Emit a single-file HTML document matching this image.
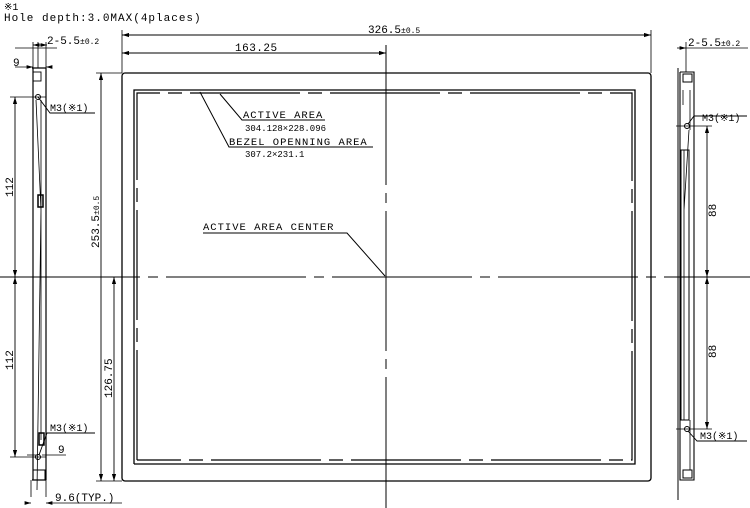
<!DOCTYPE html>
<html><head><meta charset="utf-8"><style>
html,body{margin:0;padding:0;background:#fff;}
svg{display:block;}
text{font-family:"Liberation Mono","DejaVu Sans Mono",monospace;fill:#000;}
</style></head><body>
<svg width="750" height="508" viewBox="0 0 750 508" xmlns="http://www.w3.org/2000/svg">
<defs>
<marker id="a" viewBox="0 0 10 6" refX="10" refY="3" markerWidth="8" markerHeight="5" orient="auto-start-reverse"><path d="M0,0 L10,3 L0,6 z" fill="#000"/></marker>
</defs>
<text x="4" y="10" font-size="10">※1</text>
<text x="4" y="21" font-size="11" letter-spacing="1">Hole depth:3.0MAX(4places)</text>

<g stroke="#000" fill="none">
<!-- main frame -->
<rect x="122" y="73" width="529" height="408" rx="3" stroke-width="1.3"/>
<path d="M134 464 V90 H635 V464 H134" stroke-width="1.3" stroke-dasharray="none"/>
<path d="M137 460 V93 H632 V460 H137" stroke-width="1.2" stroke-dasharray="110 8 14 8"/>
<!-- center lines -->
<path d="M0 277 H750" stroke-width="1" stroke-dasharray="140 8 10 8"/>
<path d="M386 45 V508" stroke-width="1" stroke-dasharray="140 8 10 8"/>
<!-- top dims -->
<path d="M122 73 V30 M651 73 V30" stroke-width="0.8"/>
<path d="M122 35 H651" stroke-width="0.9" marker-start="url(#a)" marker-end="url(#a)"/>
<path d="M122 53 H386" stroke-width="0.9" marker-start="url(#a)" marker-end="url(#a)"/>
<!-- left vertical dims -->
<path d="M122 73 H96 M122 481 H96 M122 277 H110" stroke-width="0.8"/>
<path d="M101 73 V481" stroke-width="0.9" marker-start="url(#a)" marker-end="url(#a)"/>
<path d="M114 277 V481" stroke-width="0.9" marker-start="url(#a)" marker-end="url(#a)"/>
<!-- leaders -->
<path d="M200 92 L229 147 H373" stroke-width="1"/>
<path d="M220 94 L242 120 H325" stroke-width="1"/>
<path d="M203 233 H347 L385 276" stroke-width="1"/>

<!-- left side view -->
<path d="M33 68 V480 M46 68 V480 M32 68 H46 M32 480 H46" stroke-width="1.2"/>
<path d="M36 100 L41 210 L37 490 M41 100 V440" stroke-width="0.8"/>
<rect x="33" y="72" width="8" height="9" stroke-width="0.9"/>
<rect x="38" y="195" width="5" height="12" stroke-width="1.5"/>
<rect x="39" y="433" width="5" height="12" stroke-width="1.5"/>
<rect x="33" y="470" width="12" height="10" stroke-width="1"/>
<circle cx="38" cy="97" r="2.5" stroke-width="1"/>
<circle cx="38" cy="457" r="2.5" stroke-width="1"/>
<path d="M10 97 H46 M10 457 H46" stroke-width="0.8"/>
<path d="M15 97 V277" stroke-width="0.9" marker-start="url(#a)" marker-end="url(#a)"/>
<path d="M15 277 V457" stroke-width="0.9" marker-start="url(#a)" marker-end="url(#a)"/>
<path d="M38 97 L50 113 H95" stroke-width="0.9"/>
<path d="M39 455 L47 433 H95" stroke-width="0.9"/>
<path d="M33 42 V68 M38 42 V68 M46 42 V68" stroke-width="0.8"/>
<path d="M33 45 H47" stroke-width="0.8" marker-end="url(#a)"/>
<path d="M33 45 H38" stroke-width="0.8" marker-start="url(#a)"/>
<path d="M15 67 H33" stroke-width="0.8" marker-end="url(#a)"/>
<path d="M46 67 H52" stroke-width="0.8" marker-start="url(#a)"/>
<path d="M27 455 H36 M42 455 H66" stroke-width="0.8"/>
<path d="M31 480 V497 M46 480 V497" stroke-width="0.8"/>
<path d="M26 503 H31" stroke-width="0.8" marker-end="url(#a)"/>
<path d="M46 503 H122" stroke-width="0.8" marker-start="url(#a)"/>
<path d="M15 48 H57" stroke-width="0.8"/>

<!-- right side view -->
<path d="M678 68 V500" stroke-width="1"/>
<path d="M680 72 V480 H694 V72 H680" stroke-width="1.1"/>
<path d="M683 90 V105 M690 90 V130 M689 130 L684 210 M684 150 V420 M690 420 V470" stroke-width="0.8"/>
<rect x="681" y="150" width="8" height="270" stroke-width="1"/>
<rect x="683" y="74" width="9" height="8" stroke-width="1"/>
<rect x="683" y="470" width="9" height="8" stroke-width="1"/>
<circle cx="687" cy="126" r="2.5" stroke-width="1"/>
<circle cx="687" cy="429" r="2.5" stroke-width="1"/>
<path d="M676 126 H712 M676 429 H712" stroke-width="0.8"/>
<path d="M707 126 V277" stroke-width="0.9" marker-start="url(#a)" marker-end="url(#a)"/>
<path d="M707 277 V429" stroke-width="0.9" marker-start="url(#a)" marker-end="url(#a)"/>
<path d="M688 124 L694 116 H747" stroke-width="0.9"/>
<path d="M688 431 L697 441 H747" stroke-width="0.9"/>
<path d="M677 48 H686" stroke-width="0.8" marker-end="url(#a)"/>
<path d="M686 48 H748" stroke-width="0.8"/>
<path d="M686 42 V72" stroke-width="0.8"/>
</g>

<!-- texts -->
<text x="368" y="33" font-size="11">326.5<tspan font-size="8">±0.5</tspan></text>
<text x="235" y="51" font-size="11" letter-spacing="0.5">163.25</text>
<text x="243" y="118" font-size="10.5" letter-spacing="1">ACTIVE AREA</text>
<text x="245" y="131" font-size="9">304.128×228.096</text>
<text x="229" y="145" font-size="10.5" letter-spacing="1">BEZEL OPENNING AREA</text>
<text x="245" y="157" font-size="9">307.2×231.1</text>
<text x="203" y="230" font-size="10.5" letter-spacing="1">ACTIVE AREA CENTER</text>
<text transform="translate(99,248) rotate(-90)" font-size="11">253.5<tspan font-size="8">±0.5</tspan></text>
<text transform="translate(112,398) rotate(-90)" font-size="11">126.75</text>
<text transform="translate(13,197) rotate(-90)" font-size="11">112</text>
<text transform="translate(13,370) rotate(-90)" font-size="11">112</text>
<text transform="translate(716,217) rotate(-90)" font-size="11">88</text>
<text transform="translate(716,358) rotate(-90)" font-size="11">88</text>
<text x="47" y="44" font-size="11">2-5.5<tspan font-size="8">±0.2</tspan></text>
<text x="13" y="66" font-size="11">9</text>
<text x="50" y="111" font-size="10">M3(※1)</text>
<text x="50" y="431" font-size="10">M3(※1)</text>
<text x="58" y="453" font-size="11">9</text>
<text x="55" y="501" font-size="11">9.6(TYP.)</text>
<text x="688" y="46" font-size="11">2-5.5<tspan font-size="8">±0.2</tspan></text>
<text x="702" y="121" font-size="10">M3(※1)</text>
<text x="700" y="439" font-size="10">M3(※1)</text>
</svg>
</body></html>
